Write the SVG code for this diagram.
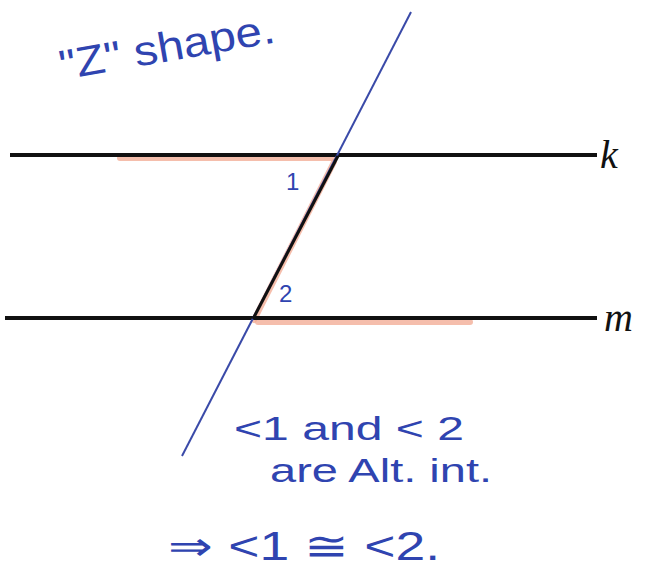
<svg xmlns="http://www.w3.org/2000/svg" width="645" height="573" viewBox="0 0 645 573">
<style>
.hl{stroke:#f2a890;stroke-width:6;stroke-linecap:round;fill:none;opacity:0.75}
.ln{stroke:#111;stroke-width:4;fill:none}
.hand{fill:#2f44b0;font-family:"Liberation Sans",Arial,sans-serif}
.lab{fill:#111;font-family:"Liberation Serif","Times New Roman",serif;font-style:italic}
</style>
<rect width="645" height="573" fill="#fff"/>
<g id="highlights">
<path class="hl" d="M120 158 L335 158"/>
<path class="hl" d="M334 162 L254 320"/>
<path class="hl" d="M258 322 L470 322"/>
</g>
<g id="line-k">
<line class="ln" x1="10" y1="155" x2="597" y2="155"/>
<text class="lab" x="600" y="168" font-size="40">k</text>
</g>
<g id="line-m">
<line class="ln" x1="5" y1="318" x2="597" y2="318"/>
<text class="lab" x="604" y="331" font-size="40">m</text>
</g>
<g id="connectors">
<line x1="411" y1="12" x2="182" y2="456" stroke="#3a4aa8" stroke-width="2"/>
<line x1="338" y1="156" x2="253" y2="319" stroke="#111" stroke-width="3"/>
</g>
<g id="angle-labels">
<text class="hand" x="286" y="190" font-size="24">1</text>
<text class="hand" x="279" y="302" font-size="24">2</text>
</g>
<g id="title">
<text class="hand" x="62" y="80" font-size="42" textLength="218" lengthAdjust="spacingAndGlyphs" transform="rotate(-10 62 80)">"Z" shape.</text>
</g>
<g id="notes">
<text class="hand" x="234" y="440" font-size="34" textLength="230" lengthAdjust="spacingAndGlyphs">&lt;1 and &lt; 2</text>
<text class="hand" x="270" y="482" font-size="34" textLength="222" lengthAdjust="spacingAndGlyphs">are Alt. int.</text>
<text class="hand" x="168" y="560" font-size="40" textLength="272" lengthAdjust="spacingAndGlyphs">⇒ &lt;1 ≅ &lt;2.</text>
</g>
</svg>
